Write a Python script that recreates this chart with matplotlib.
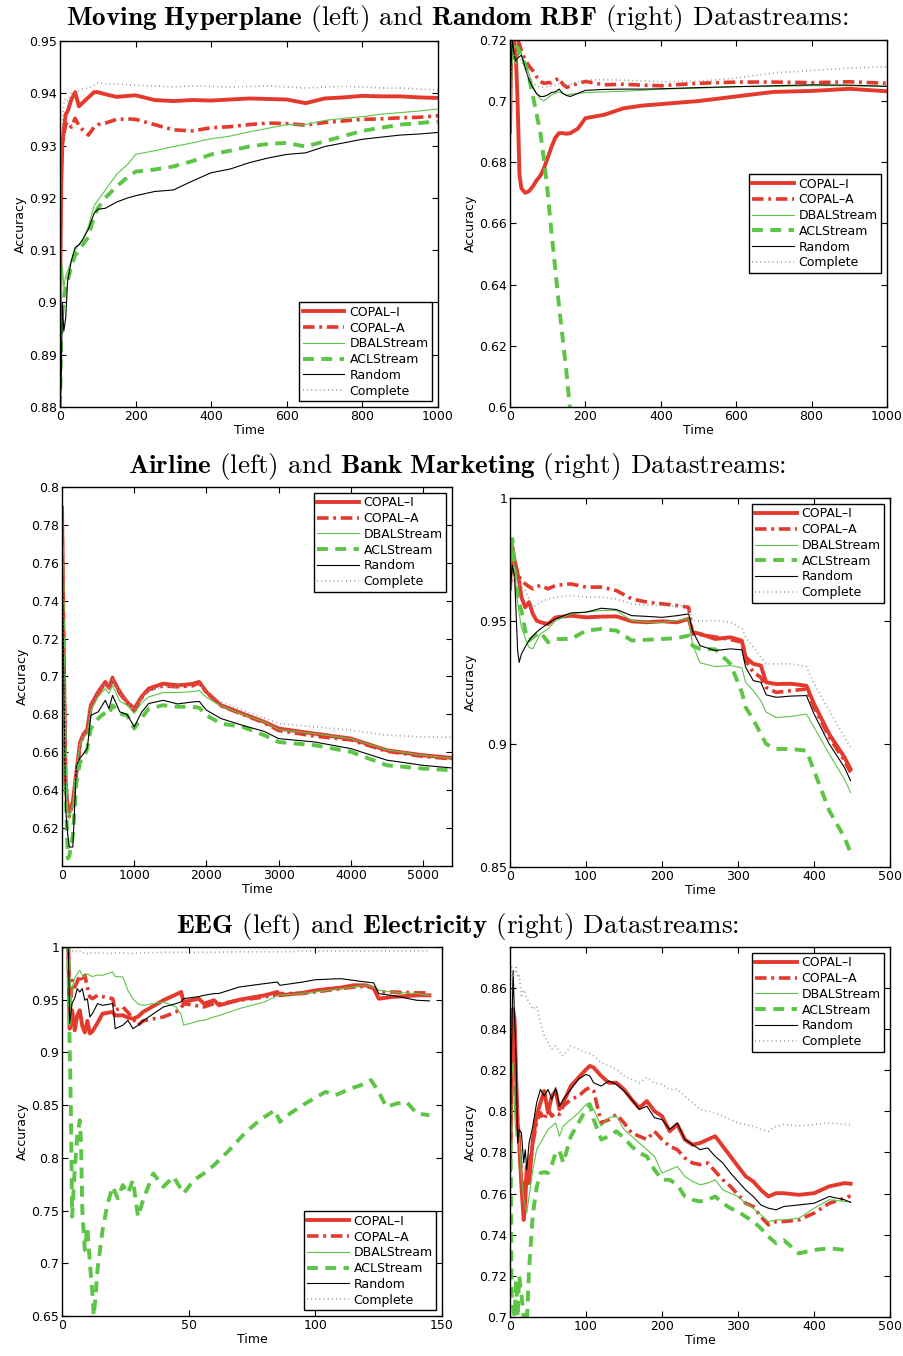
import numpy as np
import matplotlib
matplotlib.use('Agg')
import matplotlib.pyplot as plt
from matplotlib.ticker import FuncFormatter

# ── Moving Hyperplane ──────────────────────────────
hyp_t = [0, 3, 6, 10, 15, 20, 30, 40, 50, 60, 75, 90, 100, 120, 150, 180, 200, 250,
         300, 350, 400, 450, 500, 550, 600, 650, 700, 750, 800, 850, 900, 950, 1000]
hyp_copal_i = [0.900, 0.922, 0.930, 0.933, 0.936, 0.9365, 0.9388, 0.9402, 0.9375, 0.9382, 0.9392,
               0.9402, 0.9402, 0.9398, 0.9393, 0.9395, 0.9396, 0.9387, 0.9385, 0.9387, 0.9386,
               0.9388, 0.9390, 0.9389, 0.9388, 0.9381, 0.9390, 0.9392, 0.9395, 0.9394, 0.9394,
               0.9392, 0.9391]
hyp_copal_a = [0.905, 0.925, 0.930, 0.932, 0.934, 0.9345, 0.9335, 0.9352, 0.9338, 0.9330, 0.9320,
               0.9335, 0.9340, 0.9343, 0.9350, 0.9351, 0.9350, 0.9340, 0.9330, 0.9328, 0.9334,
               0.9336, 0.9340, 0.9343, 0.9342, 0.9339, 0.9344, 0.9347, 0.9350, 0.9351, 0.9353,
               0.9354, 0.9357]
hyp_dbal = [0.884, 0.900, 0.907, 0.903, 0.905, 0.906, 0.908, 0.910, 0.911, 0.912, 0.9145,
            0.9185, 0.9195, 0.9215, 0.9245, 0.9265, 0.9283, 0.9290, 0.9298, 0.9305, 0.9313,
            0.9318, 0.9326, 0.9333, 0.9340, 0.9340, 0.9348, 0.9352, 0.9355, 0.9360, 0.9363,
            0.9366, 0.9370]
hyp_acl = [0.880, 0.893, 0.898, 0.901, 0.903, 0.904, 0.907, 0.909, 0.910, 0.911, 0.9125,
           0.9165, 0.9180, 0.9200, 0.9222, 0.9240, 0.9250, 0.9254, 0.9260, 0.9270, 0.9283,
           0.9290, 0.9298, 0.9303, 0.9305, 0.9298, 0.9308, 0.9318, 0.9328, 0.9334, 0.9340,
           0.9343, 0.9346]
hyp_random = [0.880, 0.884, 0.900, 0.8945, 0.897, 0.904, 0.908, 0.9105, 0.911, 0.912, 0.914,
              0.917, 0.9178, 0.9180, 0.9192, 0.9200, 0.9204, 0.9212, 0.9215, 0.9232, 0.9248,
              0.9255, 0.9267, 0.9276, 0.9283, 0.9286, 0.9298, 0.9305, 0.9312, 0.9316, 0.9320,
              0.9322, 0.9325]
hyp_complete = [0.915, 0.930, 0.935, 0.938, 0.939, 0.9385, 0.940, 0.940, 0.9405, 0.9408, 0.941,
                0.9415, 0.942, 0.9418, 0.9418, 0.9416, 0.9415, 0.9414, 0.9412, 0.9414, 0.9413,
                0.9412, 0.9413, 0.9414, 0.9412, 0.9410, 0.9412, 0.9413, 0.9412, 0.9410, 0.9410,
                0.9408, 0.9406]

# ── Random RBF ──────────────────────────────
rbf_t = [0, 3, 6, 10, 15, 20, 25, 30, 40, 50, 60, 70, 80, 90, 100, 110, 120, 130, 140, 150,
         160, 180, 200, 250, 300, 350, 400, 500, 600, 700, 800, 900, 1000]
rbf_copal_i = [0.690, 0.715, 0.722, 0.720, 0.716, 0.700, 0.676, 0.6715, 0.670, 0.6705, 0.672,
               0.674, 0.6755, 0.678, 0.6815, 0.685, 0.688, 0.6895, 0.6895, 0.6893, 0.6895,
               0.6910, 0.6944, 0.6955, 0.6976, 0.6985, 0.6990, 0.7000, 0.7015, 0.7030, 0.7033,
               0.7040, 0.7032]
rbf_copal_a = [0.705, 0.715, 0.718, 0.714, 0.718, 0.720, 0.7185, 0.7165, 0.7135, 0.7115, 0.7100,
               0.708, 0.7064, 0.7058, 0.7060, 0.7060, 0.7068, 0.7075, 0.7055, 0.7045, 0.7048,
               0.7058, 0.7064, 0.7053, 0.7055, 0.7052, 0.7050, 0.7058, 0.7062, 0.7062, 0.7060,
               0.7063, 0.7058]
rbf_dbal = [0.670, 0.705, 0.718, 0.715, 0.712, 0.714, 0.716, 0.7155, 0.712, 0.709, 0.705,
            0.7025, 0.7008, 0.7000, 0.7010, 0.7020, 0.7025, 0.7030, 0.7025, 0.7020, 0.7022,
            0.7025, 0.7028, 0.7030, 0.7032, 0.7035, 0.7039, 0.7042, 0.7047, 0.7048, 0.7050,
            0.7050, 0.7048]
rbf_acl = [0.700, 0.720, 0.721, 0.720, 0.718, 0.7175, 0.716, 0.715, 0.712, 0.708, 0.702,
           0.696, 0.690, 0.681, 0.670, 0.657, 0.645, 0.633, 0.622, 0.611, 0.598]
rbf_random = [0.700, 0.712, 0.720, 0.716, 0.713, 0.714, 0.7145, 0.7150, 0.711, 0.707, 0.7045,
              0.7025, 0.7015, 0.7015, 0.7020, 0.7028, 0.7030, 0.7039, 0.7025, 0.7018, 0.7015,
              0.7025, 0.7035, 0.7038, 0.7039, 0.7039, 0.7040, 0.7044, 0.7047, 0.7050, 0.7053,
              0.7052, 0.7048]
rbf_complete = [0.700, 0.708, 0.712, 0.714, 0.716, 0.715, 0.714, 0.713, 0.711, 0.708, 0.706,
                0.705, 0.7045, 0.7045, 0.7048, 0.7050, 0.7052, 0.7055, 0.7050, 0.7052, 0.7055,
                0.7062, 0.7068, 0.7070, 0.7068, 0.7066, 0.7063, 0.7064, 0.7075, 0.7092, 0.7100,
                0.7108, 0.7112]

# ── Airline ──────────────────────────────
air_t = [0, 20, 50, 80, 100, 150, 200, 250, 300, 350, 400, 500, 600, 650, 700, 800, 900, 1000,
         1100, 1200, 1400, 1600, 1800, 1900, 2000, 2200, 2500, 2800, 3000, 3500, 4000, 4500,
         5000, 5400]
air_copal_i = [0.789, 0.725, 0.644, 0.630, 0.6285, 0.634, 0.6496, 0.6654, 0.6698, 0.672, 0.6848,
               0.6918, 0.6971, 0.694, 0.6988, 0.6918, 0.6865, 0.683, 0.6892, 0.6936, 0.6962,
               0.6953, 0.6960, 0.6971, 0.6918, 0.6848, 0.6804, 0.676, 0.6725, 0.6698, 0.6672,
               0.661, 0.6584, 0.657]
air_copal_a = [0.786, 0.720, 0.640, 0.628, 0.626, 0.633, 0.648, 0.664, 0.6690, 0.671, 0.6840,
               0.6910, 0.6965, 0.6935, 0.6995, 0.6910, 0.6860, 0.6820, 0.6885, 0.6930, 0.6950,
               0.6945, 0.6950, 0.6965, 0.6915, 0.6845, 0.6800, 0.6755, 0.6715, 0.6685, 0.6665,
               0.6605, 0.6578, 0.6565]
air_dbal = [0.786, 0.720, 0.643, 0.628, 0.625, 0.632, 0.652, 0.664, 0.668, 0.670, 0.682,
            0.6892, 0.6935, 0.691, 0.6953, 0.687, 0.6848, 0.6804, 0.686, 0.6892, 0.6915,
            0.6915, 0.6920, 0.6925, 0.6890, 0.6845, 0.6800, 0.6760, 0.6720, 0.6698, 0.6672,
            0.6612, 0.6584, 0.6568]
air_acl = [0.769, 0.700, 0.640, 0.604, 0.605, 0.6162, 0.6443, 0.6549, 0.6566, 0.662, 0.6725,
           0.6778, 0.6810, 0.680, 0.6848, 0.6804, 0.6795, 0.6725, 0.678, 0.683, 0.6848,
           0.6840, 0.6840, 0.6835, 0.6795, 0.6751, 0.6734, 0.669, 0.6654, 0.6637, 0.6602,
           0.6531, 0.6514, 0.6505]
air_random = [0.780, 0.710, 0.630, 0.6162, 0.610, 0.610, 0.6531, 0.657, 0.6593, 0.662, 0.6795,
              0.6813, 0.6874, 0.683, 0.690, 0.6813, 0.680, 0.6734, 0.681, 0.6857, 0.6874,
              0.6855, 0.6865, 0.6868, 0.6822, 0.6778, 0.6742, 0.6710, 0.6672, 0.6654, 0.6619,
              0.6558, 0.6531, 0.6517]
air_complete = [0.789, 0.722, 0.642, 0.630, 0.627, 0.634, 0.650, 0.666, 0.670, 0.672, 0.6845,
                0.6915, 0.6965, 0.694, 0.698, 0.6915, 0.686, 0.6825, 0.689, 0.6925, 0.6945,
                0.6945, 0.6950, 0.6960, 0.6920, 0.6865, 0.6822, 0.6780, 0.6751, 0.6734, 0.6716,
                0.6690, 0.6681, 0.6678]

# ── Bank Marketing ──────────────────────────────
bank_t = [0, 3, 6, 10, 12, 15, 20, 25, 30, 35, 40, 50, 60, 80, 100, 120, 140, 160, 180, 200,
          220, 235, 240, 250, 270, 290, 305, 310, 320, 330, 337, 350, 370, 390, 400, 420, 440, 448]
bank_copal_i = [0.965, 0.980, 0.9746, 0.9692, 0.966, 0.9597, 0.9556, 0.9577, 0.9529, 0.9502,
                0.9495, 0.9488, 0.9515, 0.9522, 0.9515, 0.9518, 0.9519, 0.9499, 0.9495, 0.9499,
                0.9495, 0.9509, 0.9455, 0.9448, 0.9427, 0.9434, 0.9420, 0.9353, 0.9326, 0.9319,
                0.9251, 0.9244, 0.9245, 0.9237, 0.9163, 0.9040, 0.8946, 0.8898]
bank_copal_a = [0.9624, 0.978, 0.9740, 0.9692, 0.968, 0.9665, 0.9651, 0.9640, 0.9631, 0.9640,
                0.9645, 0.9631, 0.9645, 0.9651, 0.9638, 0.9638, 0.9624, 0.9590, 0.9577, 0.9570,
                0.9563, 0.9556, 0.9448, 0.9445, 0.9435, 0.9425, 0.9414, 0.9339, 0.9292, 0.9271,
                0.9230, 0.9210, 0.9217, 0.9224, 0.9149, 0.9027, 0.8932, 0.8885]
bank_dbal = [0.9719, 0.9828, 0.970, 0.958, 0.953, 0.9475, 0.943, 0.9393, 0.9387, 0.942,
             0.9448, 0.9468, 0.9502, 0.9529, 0.9536, 0.9543, 0.9543, 0.9502, 0.9495, 0.9495,
             0.9502, 0.9509, 0.9407, 0.9330, 0.9315, 0.9319, 0.9310, 0.9251, 0.9217, 0.9176,
             0.9130, 0.9108, 0.9112, 0.9122, 0.9068, 0.8959, 0.8857, 0.8803]
bank_acl = [0.9733, 0.9834, 0.970, 0.961, 0.957, 0.9543, 0.946, 0.9421, 0.9434, 0.9445,
            0.9455, 0.9414, 0.9427, 0.9427, 0.9461, 0.9468, 0.9461, 0.9421, 0.9424, 0.9427,
            0.9431, 0.9441, 0.9400, 0.9387, 0.9385, 0.9326, 0.9210, 0.9149, 0.9100, 0.9040,
            0.9000, 0.8980, 0.8980, 0.8973, 0.8891, 0.8729, 0.8620, 0.8559]
bank_random = [0.9624, 0.9726, 0.968, 0.938, 0.9332, 0.9366, 0.9395, 0.9421, 0.9440, 0.9455,
               0.9468, 0.9490, 0.9509, 0.9533, 0.9536, 0.9552, 0.9547, 0.9522, 0.9519, 0.9515,
               0.9522, 0.9529, 0.9461, 0.9400, 0.9380, 0.9387, 0.9383, 0.9312, 0.9258, 0.9251,
               0.9200, 0.9190, 0.9195, 0.9197, 0.9122, 0.9000, 0.8905, 0.8851]
bank_complete = [0.965, 0.966, 0.9678, 0.966, 0.965, 0.9640, 0.9624, 0.959, 0.9556, 0.9565,
                 0.9577, 0.9590, 0.9597, 0.9604, 0.9597, 0.9597, 0.9590, 0.9570, 0.9565, 0.9563,
                 0.9560, 0.9563, 0.9502, 0.9500, 0.9502, 0.9495, 0.9470, 0.9434, 0.9393, 0.9353,
                 0.9326, 0.9326, 0.9326, 0.9315, 0.9244, 0.9136, 0.9027, 0.8986]

# ── EEG ──────────────────────────────
eeg_t = [0, 2.5, 3, 4, 5, 6, 7, 8, 9, 10, 11, 12, 14, 16, 20, 21, 24, 26, 28, 30, 32, 40, 45,
         47, 48, 54, 56, 60, 62, 70, 80, 85, 86, 95, 100, 110, 115, 120, 123, 125, 130, 140, 145]
eeg_copal_i = [1.0, 1.0, 0.9226, 0.940, 0.921, 0.935, 0.940, 0.925, 0.919, 0.930, 0.918, 0.920,
               0.928, 0.9368, 0.9384, 0.935, 0.9353, 0.933, 0.932, 0.934, 0.9384, 0.9495, 0.955,
               0.9574, 0.9479, 0.951, 0.9463, 0.9495, 0.9447, 0.950, 0.9542, 0.9574, 0.9542,
               0.9565, 0.9589, 0.9615, 0.9637, 0.9637, 0.961, 0.951, 0.9526, 0.9542, 0.9542]
eeg_copal_a = [1.0, 1.0, 0.9337, 0.9684, 0.962, 0.967, 0.9732, 0.967, 0.9732, 0.962, 0.9526,
               0.951, 0.9542, 0.953, 0.951, 0.940, 0.9432, 0.938, 0.932, 0.9258, 0.930, 0.9337,
               0.9384, 0.942, 0.9463, 0.944, 0.9432, 0.9463, 0.946, 0.9495, 0.9526, 0.955,
               0.9558, 0.956, 0.9574, 0.9605, 0.962, 0.9627, 0.961, 0.9574, 0.9574, 0.9565, 0.9565]
eeg_dbal = [1.0, 1.0, 0.9242, 0.962, 0.970, 0.9747, 0.9779, 0.973, 0.972, 0.9747, 0.973, 0.972,
            0.9735, 0.9732, 0.9763, 0.972, 0.9716, 0.9589, 0.951, 0.946, 0.9447, 0.9479, 0.9432,
            0.936, 0.9258, 0.930, 0.9305, 0.9337, 0.935, 0.9416, 0.9479, 0.954, 0.9542, 0.956,
            0.9574, 0.9605, 0.962, 0.9637, 0.962, 0.9589, 0.9574, 0.9558, 0.9542]
eeg_random = [1.0, 1.0, 0.9274, 0.947, 0.9513, 0.9605, 0.9574, 0.9605, 0.9495, 0.951, 0.9337,
              0.9368, 0.9463, 0.9447, 0.9463, 0.9226, 0.9258, 0.9305, 0.9226, 0.9258, 0.930,
              0.9431, 0.9463, 0.948, 0.9510, 0.953, 0.9542, 0.9558, 0.956, 0.9621, 0.9653,
              0.9668, 0.9637, 0.9668, 0.969, 0.9700, 0.9684, 0.9668, 0.966, 0.9558, 0.9542,
              0.9495, 0.9489]
eeg_complete = [1.0, 1.0, 0.998, 0.996, 0.997, 0.995, 0.996, 0.994, 0.995, 0.994, 0.995, 0.994,
                0.995, 0.994, 0.994, 0.9945, 0.9945, 0.994, 0.994, 0.9945, 0.9945, 0.995, 0.995,
                0.995, 0.995, 0.995, 0.995, 0.995, 0.995, 0.9955, 0.9955, 0.9955, 0.9955, 0.996,
                0.996, 0.996, 0.996, 0.996, 0.996, 0.996, 0.996, 0.996, 0.996]
eeg_acl_t = [0, 2.5, 3, 3.5, 4, 5, 6, 7, 7.5, 8, 9, 10, 11, 12, 12.5, 13, 14, 16, 18, 20, 22,
             24, 26, 28, 30, 32, 36, 40, 44, 48, 52, 56, 60, 66, 72, 78, 84, 86, 90, 96, 104,
             108, 114, 118, 122, 125, 128, 132, 136, 140, 145]
eeg_acl = [1.0, 1.0, 0.9084, 0.846, 0.7442, 0.7884, 0.820, 0.8358, 0.815, 0.7505, 0.7126,
           0.7347, 0.700, 0.6715, 0.650, 0.662, 0.6936, 0.7315, 0.7568, 0.7726, 0.7616, 0.7742,
           0.7663, 0.7789, 0.7442, 0.760, 0.7852, 0.7726, 0.7821, 0.7663, 0.7789, 0.7852,
           0.7931, 0.8073, 0.8231, 0.8358, 0.8452, 0.8342, 0.8421, 0.8515, 0.8626, 0.8595,
           0.8658, 0.8690, 0.8737, 0.8626, 0.8484, 0.8515, 0.8531, 0.8421, 0.8405]

# ── Electricity ──────────────────────────────
elec_t = [0, 2, 4, 6, 8, 10, 12, 15, 18, 20, 22, 25, 30, 35, 40, 45, 50, 55, 60, 65, 70, 80, 90,
          100, 105, 110, 120, 130, 140, 150, 160, 170, 180, 190, 200, 210, 220, 230, 240, 250,
          260, 270, 280, 290, 300, 310, 320, 330, 340, 350, 360, 380, 400, 420, 440, 448]
elec_copal_i = [0.7716, 0.8139, 0.8497, 0.8449, 0.8172, 0.7944, 0.7846, 0.7635, 0.7472, 0.7553,
                0.7732, 0.7651, 0.7863, 0.7977, 0.8042, 0.8099, 0.7993, 0.8074, 0.8099, 0.8010,
                0.8042, 0.8123, 0.8164, 0.8204, 0.8221, 0.8213, 0.8172, 0.8139, 0.8139, 0.8107,
                0.8058, 0.8017, 0.8050, 0.8001, 0.7977, 0.7903, 0.7936, 0.7863, 0.7838, 0.7846,
                0.7863, 0.7879, 0.7830, 0.7781, 0.7732, 0.7684, 0.7659, 0.7618, 0.7586, 0.7602,
                0.7602, 0.7594, 0.7602, 0.7635, 0.7651, 0.7648]
elec_copal_a = [0.7732, 0.8074, 0.8335, 0.8200, 0.8074, 0.7950, 0.7846, 0.7684, 0.7586, 0.7635,
                0.7700, 0.7749, 0.7846, 0.7944, 0.7993, 0.7960, 0.8009, 0.7977, 0.7993, 0.7985,
                0.8025, 0.8058, 0.8074, 0.8107, 0.8115, 0.8100, 0.7944, 0.7960, 0.7985, 0.7944,
                0.7895, 0.7879, 0.7863, 0.7903, 0.7863, 0.7830, 0.7814, 0.7773, 0.7749, 0.7741,
                0.7749, 0.7708, 0.7667, 0.7635, 0.7594, 0.7553, 0.7537, 0.7488, 0.7448, 0.7464,
                0.7464, 0.7472, 0.7505, 0.7553, 0.7578, 0.7589]
elec_dbal = [0.8302, 0.8172, 0.8237, 0.8000, 0.7879, 0.7900, 0.7863, 0.7684, 0.7570, 0.7540,
             0.7505, 0.7586, 0.7716, 0.7814, 0.7846, 0.7879, 0.7912, 0.7928, 0.7944, 0.7879,
             0.7928, 0.7960, 0.7993, 0.8034, 0.8042, 0.8009, 0.7928, 0.7969, 0.7977, 0.7912,
             0.7879, 0.7846, 0.7814, 0.7781, 0.7700, 0.7716, 0.7732, 0.7684, 0.7659, 0.7643,
             0.7651, 0.7667, 0.7618, 0.7602, 0.7586, 0.7553, 0.7529, 0.7496, 0.7464, 0.7472,
             0.7472, 0.7480, 0.7529, 0.7570, 0.7562, 0.7562]
elec_acl = [0.8302, 0.7114, 0.7050, 0.7000, 0.7180, 0.7000, 0.7200, 0.7110, 0.7000, 0.6985,
            0.6960, 0.7229, 0.7500, 0.7630, 0.7700, 0.7705, 0.7700, 0.7741, 0.7798, 0.7810,
            0.7749, 0.7879, 0.7944, 0.8009, 0.8034, 0.7960, 0.7863, 0.7879, 0.7903, 0.7870,
            0.7830, 0.7798, 0.7781, 0.7716, 0.7667, 0.7667, 0.7643, 0.7586, 0.7570, 0.7562,
            0.7570, 0.7586, 0.7553, 0.7529, 0.7513, 0.7488, 0.7464, 0.7431, 0.7391, 0.7358,
            0.7374, 0.7309, 0.7326, 0.7334, 0.7326, 0.7326]
elec_random = [0.7716, 0.8302, 0.8685, 0.8449, 0.8253, 0.7846, 0.7912, 0.7895, 0.7749, 0.7814,
               0.7716, 0.7846, 0.7928, 0.8042, 0.8107, 0.8074, 0.8107, 0.8058, 0.8115, 0.8025,
               0.8058, 0.8107, 0.8156, 0.8180, 0.8172, 0.8139, 0.8123, 0.8148, 0.8131, 0.8099,
               0.8058, 0.8009, 0.8025, 0.7969, 0.7960, 0.7912, 0.7944, 0.7863, 0.7838, 0.7814,
               0.7822, 0.7781, 0.7749, 0.7700, 0.7659, 0.7618, 0.7586, 0.7545, 0.7529, 0.7521,
               0.7537, 0.7545, 0.7553, 0.7586, 0.7570, 0.7557]
elec_complete = [0.8579, 0.8700, 0.8650, 0.8680, 0.8700, 0.8650, 0.8660, 0.8563, 0.8590, 0.8579,
                 0.8550, 0.8530, 0.8497, 0.8513, 0.8432, 0.8367, 0.8335, 0.8302, 0.8318, 0.8290,
                 0.8270, 0.8318, 0.8302, 0.8286, 0.8280, 0.8270, 0.8237, 0.8221, 0.8204, 0.8172,
                 0.8156, 0.8139, 0.8164, 0.8139, 0.8131, 0.8107, 0.8107, 0.8074, 0.8042, 0.8009,
                 0.8001, 0.7993, 0.7977, 0.7960, 0.7944, 0.7936, 0.7928, 0.7912, 0.7903, 0.7928,
                 0.7936, 0.7928, 0.7936, 0.7944, 0.7936, 0.7936]

labels = ['COPAL–I', 'COPAL–A', 'DBALStream', 'ACLStream', 'Random', 'Complete']
RED = '#e43a2e'
GREEN = '#5cc546'
styles = [
    dict(color=RED, lw=2.8, ls='-'),
    dict(color=RED, lw=2.6, dashes=(3.2, 1.3, 0.8, 1.3)),
    dict(color=GREEN, lw=0.8, ls='-'),
    dict(color=GREEN, lw=2.8, dashes=(2.8, 1.9)),
    dict(color='black', lw=0.8, ls='-'),
    dict(color='#999999', lw=1.3, dashes=(0.5, 1.8)),
]

plt.rcParams['font.family'] = 'DejaVu Sans'
plt.rcParams['font.size'] = 8.5

fig = plt.figure(figsize=(9.04, 13.56), dpi=100)


def panel(rect, series, xlim, ylim, xticks, yticks, legend_loc):
    ax = fig.add_axes(rect)
    for (t, y), lab, st in zip(series, labels, styles):
        ax.plot(t[:len(y)], y, label=lab, **st)
    ax.set_xlim(*xlim)
    ax.set_ylim(*ylim)
    ax.set_xticks(xticks)
    ax.set_yticks(yticks)
    ax.yaxis.set_major_formatter(FuncFormatter(lambda v, p: '%g' % round(v, 4)))
    ax.xaxis.set_major_formatter(FuncFormatter(lambda v, p: '%g' % v))
    ax.tick_params(direction='in', top=True, right=True, length=4, width=0.8, labelsize=9, pad=2)
    for s in ax.spines.values():
        s.set_linewidth(1.0)
    ax.set_xlabel('Time', fontsize=9, labelpad=1)
    ax.set_ylabel('Accuracy', fontsize=9, labelpad=2)
    leg = ax.legend(loc=legend_loc, fontsize=9, handlelength=3.3, labelspacing=0.22,
                    borderpad=0.3, handletextpad=0.4, borderaxespad=0.45, fancybox=False,
                    framealpha=1, edgecolor='black')
    leg.get_frame().set_linewidth(1.0)
    return ax


panel([0.0664, 0.6999, 0.4181, 0.2699],
      [(hyp_t, hyp_copal_i), (hyp_t, hyp_copal_a), (hyp_t, hyp_dbal),
       (hyp_t, hyp_acl), (hyp_t, hyp_random), (hyp_t, hyp_complete)],
      (0, 1000), (0.88, 0.95), range(0, 1001, 200), np.arange(0.88, 0.9501, 0.01), 'lower right')

panel([0.5642, 0.6999, 0.4170, 0.2707],
      [(rbf_t, rbf_copal_i), (rbf_t, rbf_copal_a), (rbf_t, rbf_dbal),
       (rbf_t, rbf_acl), (rbf_t, rbf_random), (rbf_t, rbf_complete)],
      (0, 1000), (0.6, 0.72), range(0, 1001, 200), np.arange(0.60, 0.7201, 0.02), 'center right')

panel([0.0686, 0.3614, 0.4314, 0.2795],
      [(air_t, air_copal_i), (air_t, air_copal_a), (air_t, air_dbal),
       (air_t, air_acl), (air_t, air_random), (air_t, air_complete)],
      (0, 5400), (0.6, 0.8), range(0, 5001, 1000), np.arange(0.62, 0.8001, 0.02), 'upper right')

panel([0.5642, 0.3606, 0.4204, 0.2721],
      [(bank_t, bank_copal_i), (bank_t, bank_copal_a), (bank_t, bank_dbal),
       (bank_t, bank_acl), (bank_t, bank_random), (bank_t, bank_complete)],
      (0, 500), (0.85, 1.0), range(0, 501, 100), np.arange(0.85, 1.001, 0.05), 'upper right')

panel([0.0686, 0.0295, 0.4204, 0.2721],
      [(eeg_t, eeg_copal_i), (eeg_t, eeg_copal_a), (eeg_t, eeg_dbal),
       (eeg_acl_t, eeg_acl), (eeg_t, eeg_random), (eeg_t, eeg_complete)],
      (0, 150), (0.65, 1.0), range(0, 151, 50), np.arange(0.65, 1.001, 0.05), 'lower right')

panel([0.5642, 0.0288, 0.4204, 0.2729],
      [(elec_t, elec_copal_i), (elec_t, elec_copal_a), (elec_t, elec_dbal),
       (elec_t, elec_acl), (elec_t, elec_random), (elec_t, elec_complete)],
      (0, 500), (0.7, 0.88), range(0, 501, 100), np.arange(0.70, 0.8601, 0.02), 'upper right')

# section titles (serif, bold dataset names)
titles = [
    (0.9867, r'$\mathbf{Moving\ Hyperplane}$ (left) and $\mathbf{Random\ RBF}$ (right) Datastreams:'),
    (0.6563, r'$\mathbf{Airline}$ (left) and $\mathbf{Bank\ Marketing}$ (right) Datastreams:'),
    (0.3171, r'$\mathbf{EEG}$ (left) and $\mathbf{Electricity}$ (right) Datastreams:'),
]
for y, txt in titles:
    fig.text(0.506, y, txt, ha='center', va='center', fontsize=19.5,
             family='cmr10', math_fontfamily='cm')

fig.savefig('out.png', dpi=100)
